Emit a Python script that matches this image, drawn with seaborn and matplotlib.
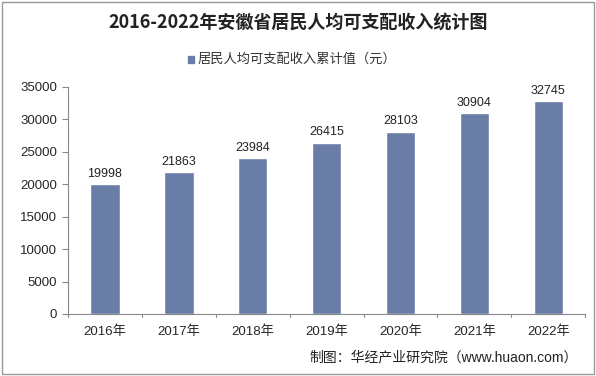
import pandas as pd
import matplotlib
matplotlib.use("Agg")
import matplotlib.pyplot as plt
import seaborn as sns
from matplotlib.patches import Rectangle

# Chart data
years = ["2016年", "2017年", "2018年", "2019年", "2020年", "2021年", "2022年"]
income = [19998, 21863, 23984, 26415, 28103, 30904, 32745]
series_name = "居民人均可支配收入累计值（元）"

df = pd.DataFrame({"year": years, "income": income})

sns.set_style("white")
plt.rcParams["font.family"] = ["Liberation Sans", "Noto Sans CJK SC", "DejaVu Sans"]

fig = plt.figure(figsize=(5.96, 3.76), dpi=100)
ax = fig.add_axes([0.114, 0.165, 0.868, 0.604])

bar_color = "#6A7DA6"
sns.barplot(data=df, x="year", y="income", color=bar_color, width=0.4,
            saturation=1, ax=ax)

# Value labels above bars
for i, v in enumerate(income):
    ax.text(i, v + 700, str(v), ha="center", va="bottom", fontsize=9, color="#222222")

ax.set_ylim(0, 35000)
ax.set_yticks(range(0, 35001, 5000))
ax.set_xlim(-0.5, len(years) - 0.5)
ax.set_xlabel("")
ax.set_ylabel("")
ax.tick_params(axis="y", labelsize=9.5, length=4, color="#888888", direction="out", left=True, pad=4)
ax.tick_params(axis="x", labelsize=9.5, length=0, pad=8)
for x in [i - 0.5 for i in range(len(years) + 1)]:
    ax.plot([x, x], [0, -0.015], transform=ax.get_xaxis_transform(),
            color="#888888", lw=0.8, clip_on=False)

for s in ["top", "right"]:
    ax.spines[s].set_visible(False)
for s in ["left", "bottom"]:
    ax.spines[s].set_color("#888888")
    ax.spines[s].set_linewidth(0.8)

# Title and legend
fig.text(0.5, 0.94, "2016-2022年安徽省居民人均可支配收入统计图", ha="center", va="center",
         fontsize=13, fontweight="bold", color="#222222",
         family=["Noto Sans CJK SC", "DejaVu Sans"])
fig.patches.append(Rectangle((0.315, 0.833), 0.011, 0.018, transform=fig.transFigure,
                             color=bar_color))
fig.text(0.332, 0.843, series_name, ha="left", va="center", fontsize=9.5, color="#333333")

# Source note
fig.text(0.970, 0.05, "制图：华经产业研究院（www.huaon.com）", ha="right", va="center",
         fontsize=10, color="#222222")

# Outer border
fig.patches.append(Rectangle((0.003, 0.005), 0.994, 0.99, transform=fig.transFigure,
                             fill=False, edgecolor="#999999", lw=1))

fig.savefig("out.png", dpi=100)
